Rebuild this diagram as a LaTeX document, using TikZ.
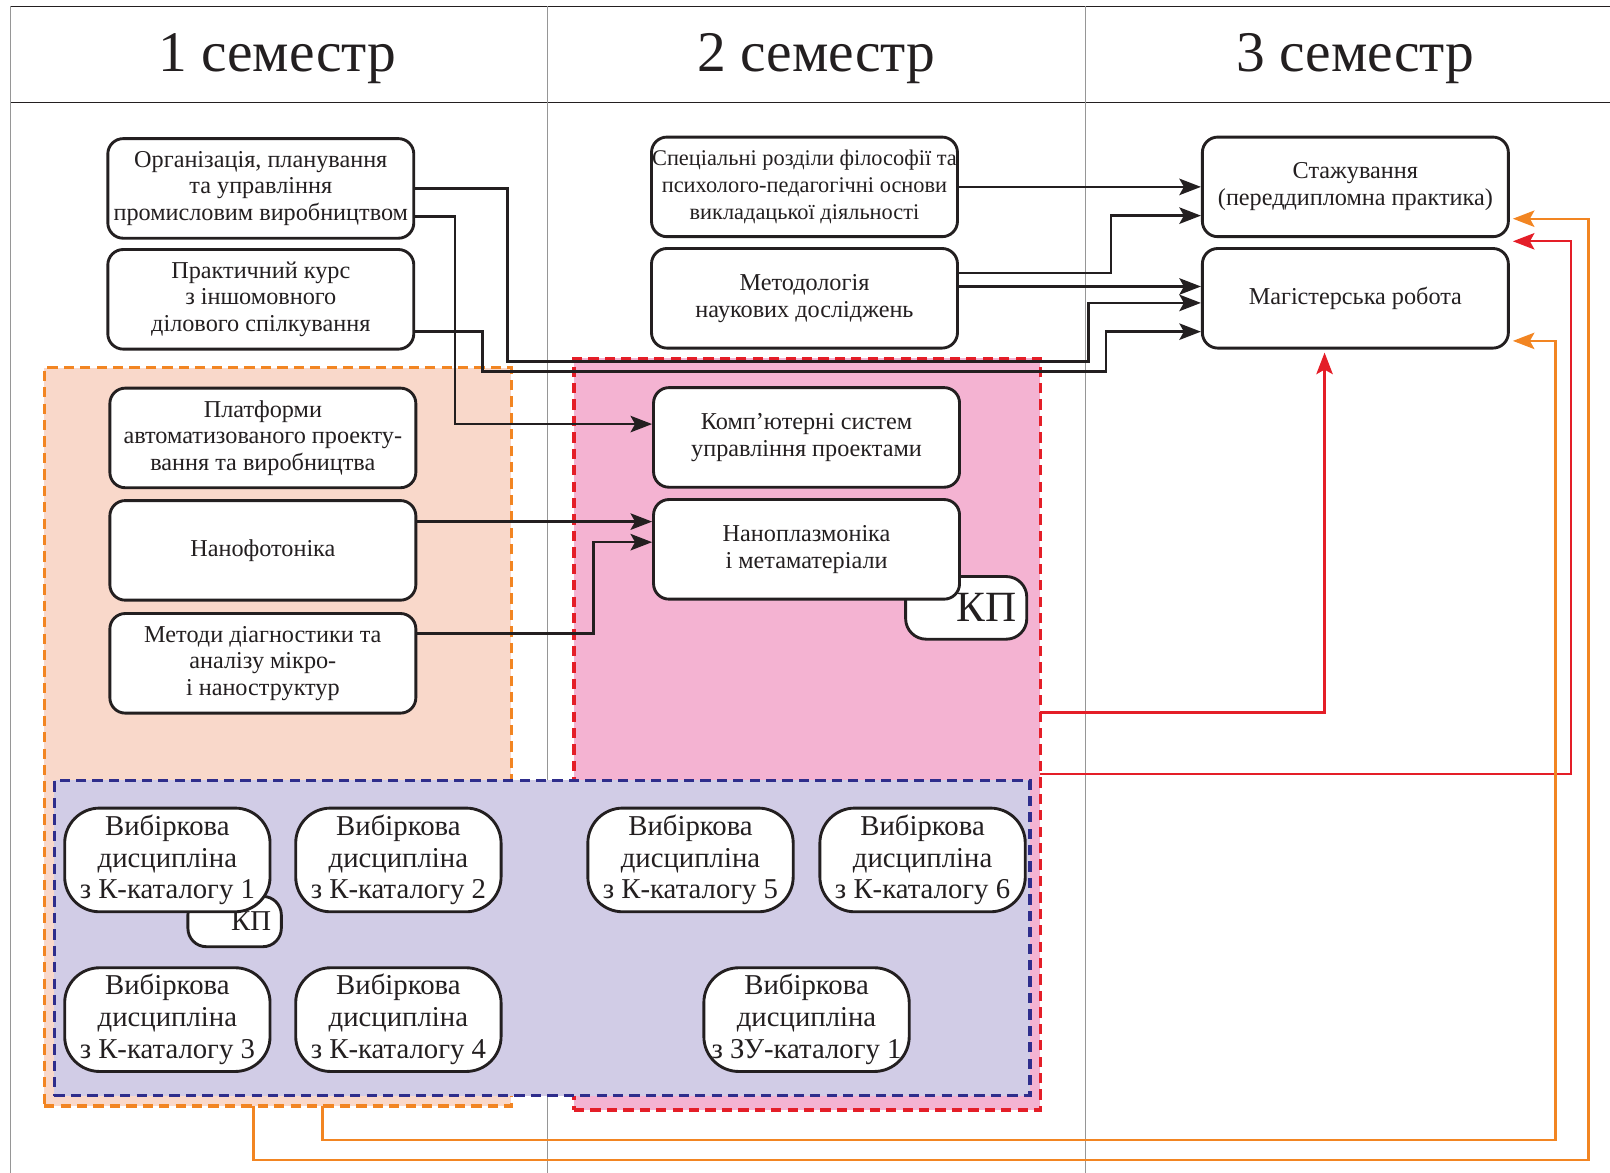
\documentclass[tikz,border=0pt]{standalone}
\usepackage{fontspec}
\setmainfont{Liberation Serif}
\usetikzlibrary{arrows.meta,fit}
\definecolor{ink}{RGB}{35,31,32}
\definecolor{gridc}{RGB}{150,150,150}
\definecolor{orng}{RGB}{242,133,34}
\definecolor{peach}{RGB}{249,216,202}
\definecolor{redc}{RGB}{228,30,40}
\definecolor{pinkf}{RGB}{244,179,210}
\definecolor{bluec}{RGB}{46,45,140}
\definecolor{lav}{RGB}{209,204,230}
\begin{document}
\begin{tikzpicture}[x=0.5pt,y=-0.5pt,
  box/.style={draw=ink, line width=1.4pt, rounded corners=7.5pt, fill=white,
    minimum width=149pt, minimum height=48.5pt, inner sep=0pt, align=center,
    text=ink, font=\fontsize{11.8pt}{13pt}\selectfont},
  ebox/.style={box, rounded corners=17pt, minimum width=100pt, minimum height=50.5pt,
    font=\fontsize{14pt}{15.5pt}\selectfont},
  kptag/.style={draw=ink, line width=1.4pt, fill=white, inner xsep=5pt, inner ysep=0pt,
    align=right, text=ink},
  hdr/.style={text=ink, font=\fontsize{28pt}{30pt}\selectfont, inner sep=0pt},
  region/.style={line width=1.6pt, dash pattern=on 5pt off 3pt, inner sep=0pt, outer sep=0pt},
  arr/.style={draw=ink, line width=1.25pt, -{Stealth[length=10.5pt,width=8pt,inset=2.2pt]}},
  rarr/.style={arr, draw=redc, line width=1.1pt, shorten >=1.5pt},
  oarr/.style={arr, draw=orng, line width=1.1pt, shorten >=1.5pt},
  frame/.style={draw=ink, line width=0.6pt},
  divl/.style={draw=gridc, line width=0.5pt}
]
\useasboundingbox (0,0) rectangle (1568,1142);

% frame and header
\draw[frame] (10,6) -- (1568,6);
\draw[frame] (10,100) -- (1568,100);
\draw[divl] (10,6) -- (10,1142);
\draw[divl] (533,6) -- (533,1142);
\draw[divl] (1057,6) -- (1057,1142);
\node[hdr] (h1) at (270,57) {1 семестр};
\node[hdr] (h2) at (795,57) {2 семестр};
\node[hdr] (h3) at (1320,57) {3 семестр};

% regions
\coordinate (O1) at (43,358); \coordinate (O2) at (498,1077);
\node[region, draw=orng, fill=peach, fit=(O1)(O2)] (O) {};
\coordinate (R1) at (559,349); \coordinate (R2) at (1013,1081);
\node[region, draw=redc, fill=pinkf, fit=(R1)(R2)] (R) {};
\coordinate (V1) at (53,760); \coordinate (V2) at (1003,1067);
\node[region, draw=bluec, fill=lav, fit=(V1)(V2)] (V) {};

% column 1
\node[box] (B1) at (254,183.5) {Організація, планування\\та управління\\промисловим виробництвом};
\node[box] (B2) at (254,291.5) {Практичний курс\\з іншомовного\\ділового спілкування};
\node[box] (B3) at (256,426.5) {Платформи\\автоматизованого проекту-\\вання та виробництва};
\node[box] (B4) at (256,536) {Нанофотоніка};
\node[box] (B5) at (256,646) {Методи діагностики та\\аналізу мікро-\\і наноструктур};

% column 2
\node[box, font=\fontsize{10.9pt}{13pt}\selectfont] (B6) at (783.5,182) {Спеціальні розділи філософії та\\психолого-педагогічні основи\\викладацької діяльності};
\node[box] (B7) at (783.5,290.5) {Методологія\\наукових досліджень};
\node[box] (B8) at (785.5,426) {Комп\char"0027ютерні систем\\управління проектами};
\node[kptag, rounded corners=10pt, text width=49pt, minimum height=30.5pt,
  font=\fontsize{21pt}{22pt}\selectfont] (K1) at (941,592) {КП};
\node[box] (B9) at (785.5,535) {Наноплазмоніка\\і метаматеріали};

% column 3
\node[box] (B10) at (1320,182) {Стажування\\(переддипломна практика)};
\node[box] (B11) at (1320,290.5) {Магістерська робота};

% electives
\node[kptag, rounded corners=9pt, text width=35.5pt, minimum height=24.5pt,
  font=\fontsize{14pt}{15pt}\selectfont] (K2) at (228.5,897.5) {КП};
\node[ebox] (E1) at (163,837.5) {Вибіркова\\дисципліна\\з К-каталогу 1};
\node[ebox] (E2) at (388,837.5) {Вибіркова\\дисципліна\\з К-каталогу 2};
\node[ebox] (E5) at (672.5,837.5) {Вибіркова\\дисципліна\\з К-каталогу 5};
\node[ebox] (E6) at (898.5,837.5) {Вибіркова\\дисципліна\\з К-каталогу 6};
\node[ebox] (E3) at (163,993) {Вибіркова\\дисципліна\\з К-каталогу 3};
\node[ebox] (E4) at (388,993) {Вибіркова\\дисципліна\\з К-каталогу 4};
\node[ebox] (EZ) at (785.5,993) {Вибіркова\\дисципліна\\з ЗУ-каталогу 1};

% junction coordinates
\coordinate (j1) at (494,352);
\coordinate (j2) at (1060,295);
\coordinate (j3) at (443,211);
\coordinate (j4) at (443,413);
\coordinate (j5) at (470,362);
\coordinate (j6) at (1077,323);
\coordinate (j7) at (500,508);
\coordinate (j8) at (578,617);
\coordinate (j9) at (578,528);
\coordinate (j10) at (1082,266);
\coordinate (j11) at (1082,210);
\coordinate (j12) at (1000,279);
\coordinate (j13) at (1290,694);
\coordinate (j14) at (1530,754);
\coordinate (j15) at (1530,235);
\coordinate (j16) at (247,1130);
\coordinate (j17) at (1547,213);
\coordinate (j18) at (314,1110);
\coordinate (j19) at (1515,332);

% black connectors
\draw[arr] (B1.east) -| (j1) -| (j2) -- (B11.west |- j2);
\draw[arr] (B1.east |- j3) -| (j4) -- (B8.west |- j4);
\draw[arr] (B2.east |- j6) -| (j5) -| (j6) -- (B11.west |- j6);
\draw[arr] (B4.east |- j7) -- (B9.west |- j7);
\draw[arr] (B5.east |- j8) -- (j8) -- (j9) -- (B9.west |- j9);
\draw[arr] (B6.east) -- (B10.west);
\draw[arr] (B7.east |- j10) -- (j10) -- (j11) -- (B10.west |- j11);
\draw[arr] (B7.east |- j12) -- (B11.west |- j12);

% red connectors
\draw[rarr] (R.east |- j13) -- (j13) -- (B11.south -| j13);
\draw[rarr] (R.east |- j14) -- (j14) -- (j15) -- (B10.east |- j15);

% orange connectors
\draw[oarr] (O.south -| j16) -- (j16) -| (j17) -- (B10.east |- j17);
\draw[oarr] (O.south -| j18) -- (j18) -| (j19) -- (B11.east |- j19);
\end{tikzpicture}
\end{document}
